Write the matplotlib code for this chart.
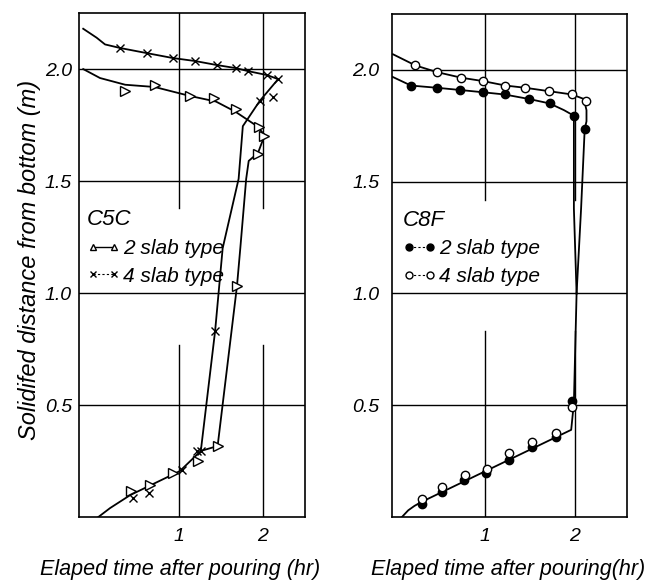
import matplotlib
matplotlib.use("Agg")
import matplotlib.pyplot as plt
from matplotlib.lines import Line2D

plt.rcParams['font.family'] = ['Liberation Sans', 'DejaVu Sans']
plt.rcParams['font.style'] = 'italic'

# ---- C5C (left) ----
# 4 slab type: curve through the crosses
c5c_4_curve_t = [-0.14, 0.02, 0.12, 0.30, 0.62, 0.93, 1.19, 1.45, 1.68, 1.82, 2.05, 2.18,
                 1.96, 1.76, 1.71, 1.52, 1.43, 1.26]
c5c_4_curve_y = [2.18, 2.14, 2.11, 2.094, 2.071, 2.049, 2.036, 2.018, 2.004, 1.991, 1.973, 1.955,
                 1.857, 1.745, 1.51, 1.20, 0.83, 0.295]
c5c_4_pts_t = [0.30, 0.62, 0.93, 1.19, 1.45, 1.68, 1.82, 2.05, 2.18, 2.12, 1.96, 1.43, 1.26, 1.21, 1.04, 0.64, 0.45]
c5c_4_pts_y = [2.094, 2.071, 2.049, 2.036, 2.018, 2.004, 1.991, 1.973, 1.955, 1.875, 1.857, 0.83, 0.295, 0.295, 0.21, 0.107, 0.085]

# 2 slab type: curve through the triangles
c5c_2_curve_t = [-0.14, 0.06, 0.36, 0.71, 1.13, 1.44, 1.67, 1.93, 2.02, 1.94, 1.83, 1.80, 1.73, 1.69, 1.46, 1.26]
c5c_2_curve_y = [2.00, 1.96, 1.93, 1.92, 1.88, 1.855, 1.81, 1.745, 1.705, 1.625, 1.59, 1.51, 1.20, 1.03, 0.317, 0.295]
c5c_2_pts_t = [0.36, 0.71, 1.13, 1.42, 1.68, 1.95, 2.01, 1.94, 1.69, 1.46, 1.23, 0.93, 0.65, 0.43]
c5c_2_pts_y = [1.90, 1.93, 1.88, 1.87, 1.82, 1.74, 1.70, 1.62, 1.03, 0.317, 0.25, 0.196, 0.143, 0.116]

# shared lower part
c5c_low_t = [1.26, 1.01, 0.42, 0.18, 0.04]
c5c_low_y = [0.295, 0.205, 0.098, 0.04, 0.0]

# ---- C8F (right) ----
c8f_2_curve_t = [-0.03, 0.18, 0.47, 0.73, 0.98, 1.22, 1.49, 1.72, 1.88, 1.99, 1.99, 2.02]
c8f_2_curve_y = [1.97, 1.93, 1.92, 1.91, 1.90, 1.89, 1.87, 1.85, 1.82, 1.795, 1.38, 1.0]
c8f_4_curve_t = [-0.02, 0.23, 0.47, 0.74, 0.98, 1.23, 1.45, 1.71, 1.97, 2.10, 2.13, 2.13, 2.11, 2.07, 2.02]
c8f_4_curve_y = [2.07, 2.02, 1.99, 1.965, 1.95, 1.93, 1.92, 1.905, 1.89, 1.87, 1.82, 1.77, 1.735, 1.38, 1.0]
c8f_low_t = [2.02, 1.99, 1.97, 1.96, 0.30, 0.22, 0.15, 0.08]
c8f_low_y = [1.0, 0.51, 0.43, 0.39, 0.068, 0.05, 0.03, 0.0]

c8f_2_pts_t = [0.18, 0.47, 0.73, 0.98, 1.22, 1.49, 1.72, 1.99, 2.11,
               0.30, 0.52, 0.77, 1.01, 1.27, 1.53, 1.79, 1.97]
c8f_2_pts_y = [1.93, 1.92, 1.91, 1.90, 1.89, 1.87, 1.85, 1.795, 1.735,
               0.058, 0.11, 0.165, 0.197, 0.254, 0.313, 0.357, 0.518]
c8f_4_pts_t = [0.23, 0.47, 0.74, 0.98, 1.23, 1.45, 1.71, 1.97, 2.12,
               0.30, 0.52, 0.78, 1.02, 1.27, 1.53, 1.79, 1.97]
c8f_4_pts_y = [2.02, 1.99, 1.965, 1.95, 1.93, 1.92, 1.905, 1.89, 1.86,
               0.08, 0.134, 0.19, 0.214, 0.286, 0.335, 0.375, 0.49]

yticks = [0.5, 1.0, 1.5, 2.0]
ytick_labels = ["0.5", "1.0", "1.5", "2.0"]
xticks = [1, 2]
xtick_labels = ["1", "2"]

fig = plt.figure(figsize=(6.47, 5.86), dpi=100)
ax1 = fig.add_axes([0.1221, 0.1177, 0.3493, 0.860])
ax2 = fig.add_axes([0.6059, 0.1177, 0.3632, 0.8584])


def style_axes(ax, xlim, gap, ypad):
    ax.set_xlim(*xlim)
    ax.set_ylim(0, 2.25)
    ax.set_yticks(yticks)
    ax.set_yticklabels(ytick_labels)
    ax.set_xticks(xticks)
    ax.set_xticklabels(xtick_labels)
    ax.tick_params(length=0, labelsize=14)
    ax.tick_params(axis="x", pad=8)
    ax.tick_params(axis="y", pad=ypad)
    for s in ax.spines.values():
        s.set_linewidth(1.2)
    for yv in yticks:
        ax.axhline(yv, color="k", lw=1.0, zorder=1)
    # vertical grid lines are broken around the legend
    for xv in xticks:
        ax.plot([xv, xv], [0, gap[0]], color="k", lw=1.0, zorder=1)
        ax.plot([xv, xv], [gap[1], 2.25], color="k", lw=1.0, zorder=1)


style_axes(ax1, (-0.19, 2.50), (0.77, 1.38), 5)
style_axes(ax2, (-0.03, 2.58), (0.83, 1.42), 9)

# left panel
ax1.plot(c5c_4_curve_t, c5c_4_curve_y, color="k", lw=1.3, zorder=2)
ax1.plot(c5c_2_curve_t, c5c_2_curve_y, color="k", lw=1.3, zorder=2)
ax1.plot(c5c_low_t, c5c_low_y, color="k", lw=1.3, zorder=2)
ax1.plot(c5c_4_pts_t, c5c_4_pts_y, ls="none", marker="x", ms=6, mew=1.0, color="k", zorder=3)
ax1.plot(c5c_2_pts_t, c5c_2_pts_y, ls="none", marker=">", ms=7, mew=1.0, mfc="white", mec="k", zorder=3)

# right panel
ax2.plot(c8f_2_curve_t, c8f_2_curve_y, color="k", lw=1.3, zorder=2)
ax2.plot(c8f_4_curve_t, c8f_4_curve_y, color="k", lw=1.3, zorder=2)
ax2.plot(c8f_low_t, c8f_low_y, color="k", lw=1.3, zorder=2)
ax2.plot(c8f_2_pts_t, c8f_2_pts_y, ls="none", marker="o", ms=6, color="k", zorder=3)
ax2.plot(c8f_4_pts_t, c8f_4_pts_y, ls="none", marker="o", ms=6, mew=1.0, mfc="white", mec="k", zorder=4)

# legends
leg_kw = dict(loc="upper left", frameon=False, numpoints=2, handlelength=1.6,
              handletextpad=0.15, labelspacing=0.42, borderpad=0, borderaxespad=0,
              fontsize=15, title_fontsize=16, alignment="left")
h_tri = Line2D([], [], color="k", lw=1.0, marker="^", ms=5, mfc="white", mec="k")
h_x = Line2D([], [], color="k", lw=0.8, ls=(0, (2, 2)), marker="x", ms=4)
ax1.legend([h_tri, h_x], ["2 slab type", "4 slab type"], title="C5C",
           bbox_to_anchor=(0.035, 0.611), **leg_kw)
h_fill = Line2D([], [], color="k", lw=0.8, ls=(0, (2, 2)), marker="o", ms=5)
h_open = Line2D([], [], color="k", lw=0.8, ls=(0, (2, 2)), marker="o", ms=5, mfc="white", mec="k")
ax2.legend([h_fill, h_open], ["2 slab type", "4 slab type"], title="C8F",
           bbox_to_anchor=(0.045, 0.611), **leg_kw)

ax1.set_xlabel("Elaped time after pouring (hr)", fontsize=15.5)
ax2.set_xlabel("Elaped time after pouring(hr)", fontsize=15.5)
ax1.xaxis.set_label_coords(0.447, -0.083)
ax2.xaxis.set_label_coords(0.495, -0.083)
ax1.set_ylabel("Solidifed distance from bottom (m)", fontsize=17)
ax1.yaxis.set_label_coords(-0.17, 0.51)

fig.savefig("out.png", dpi=100)
